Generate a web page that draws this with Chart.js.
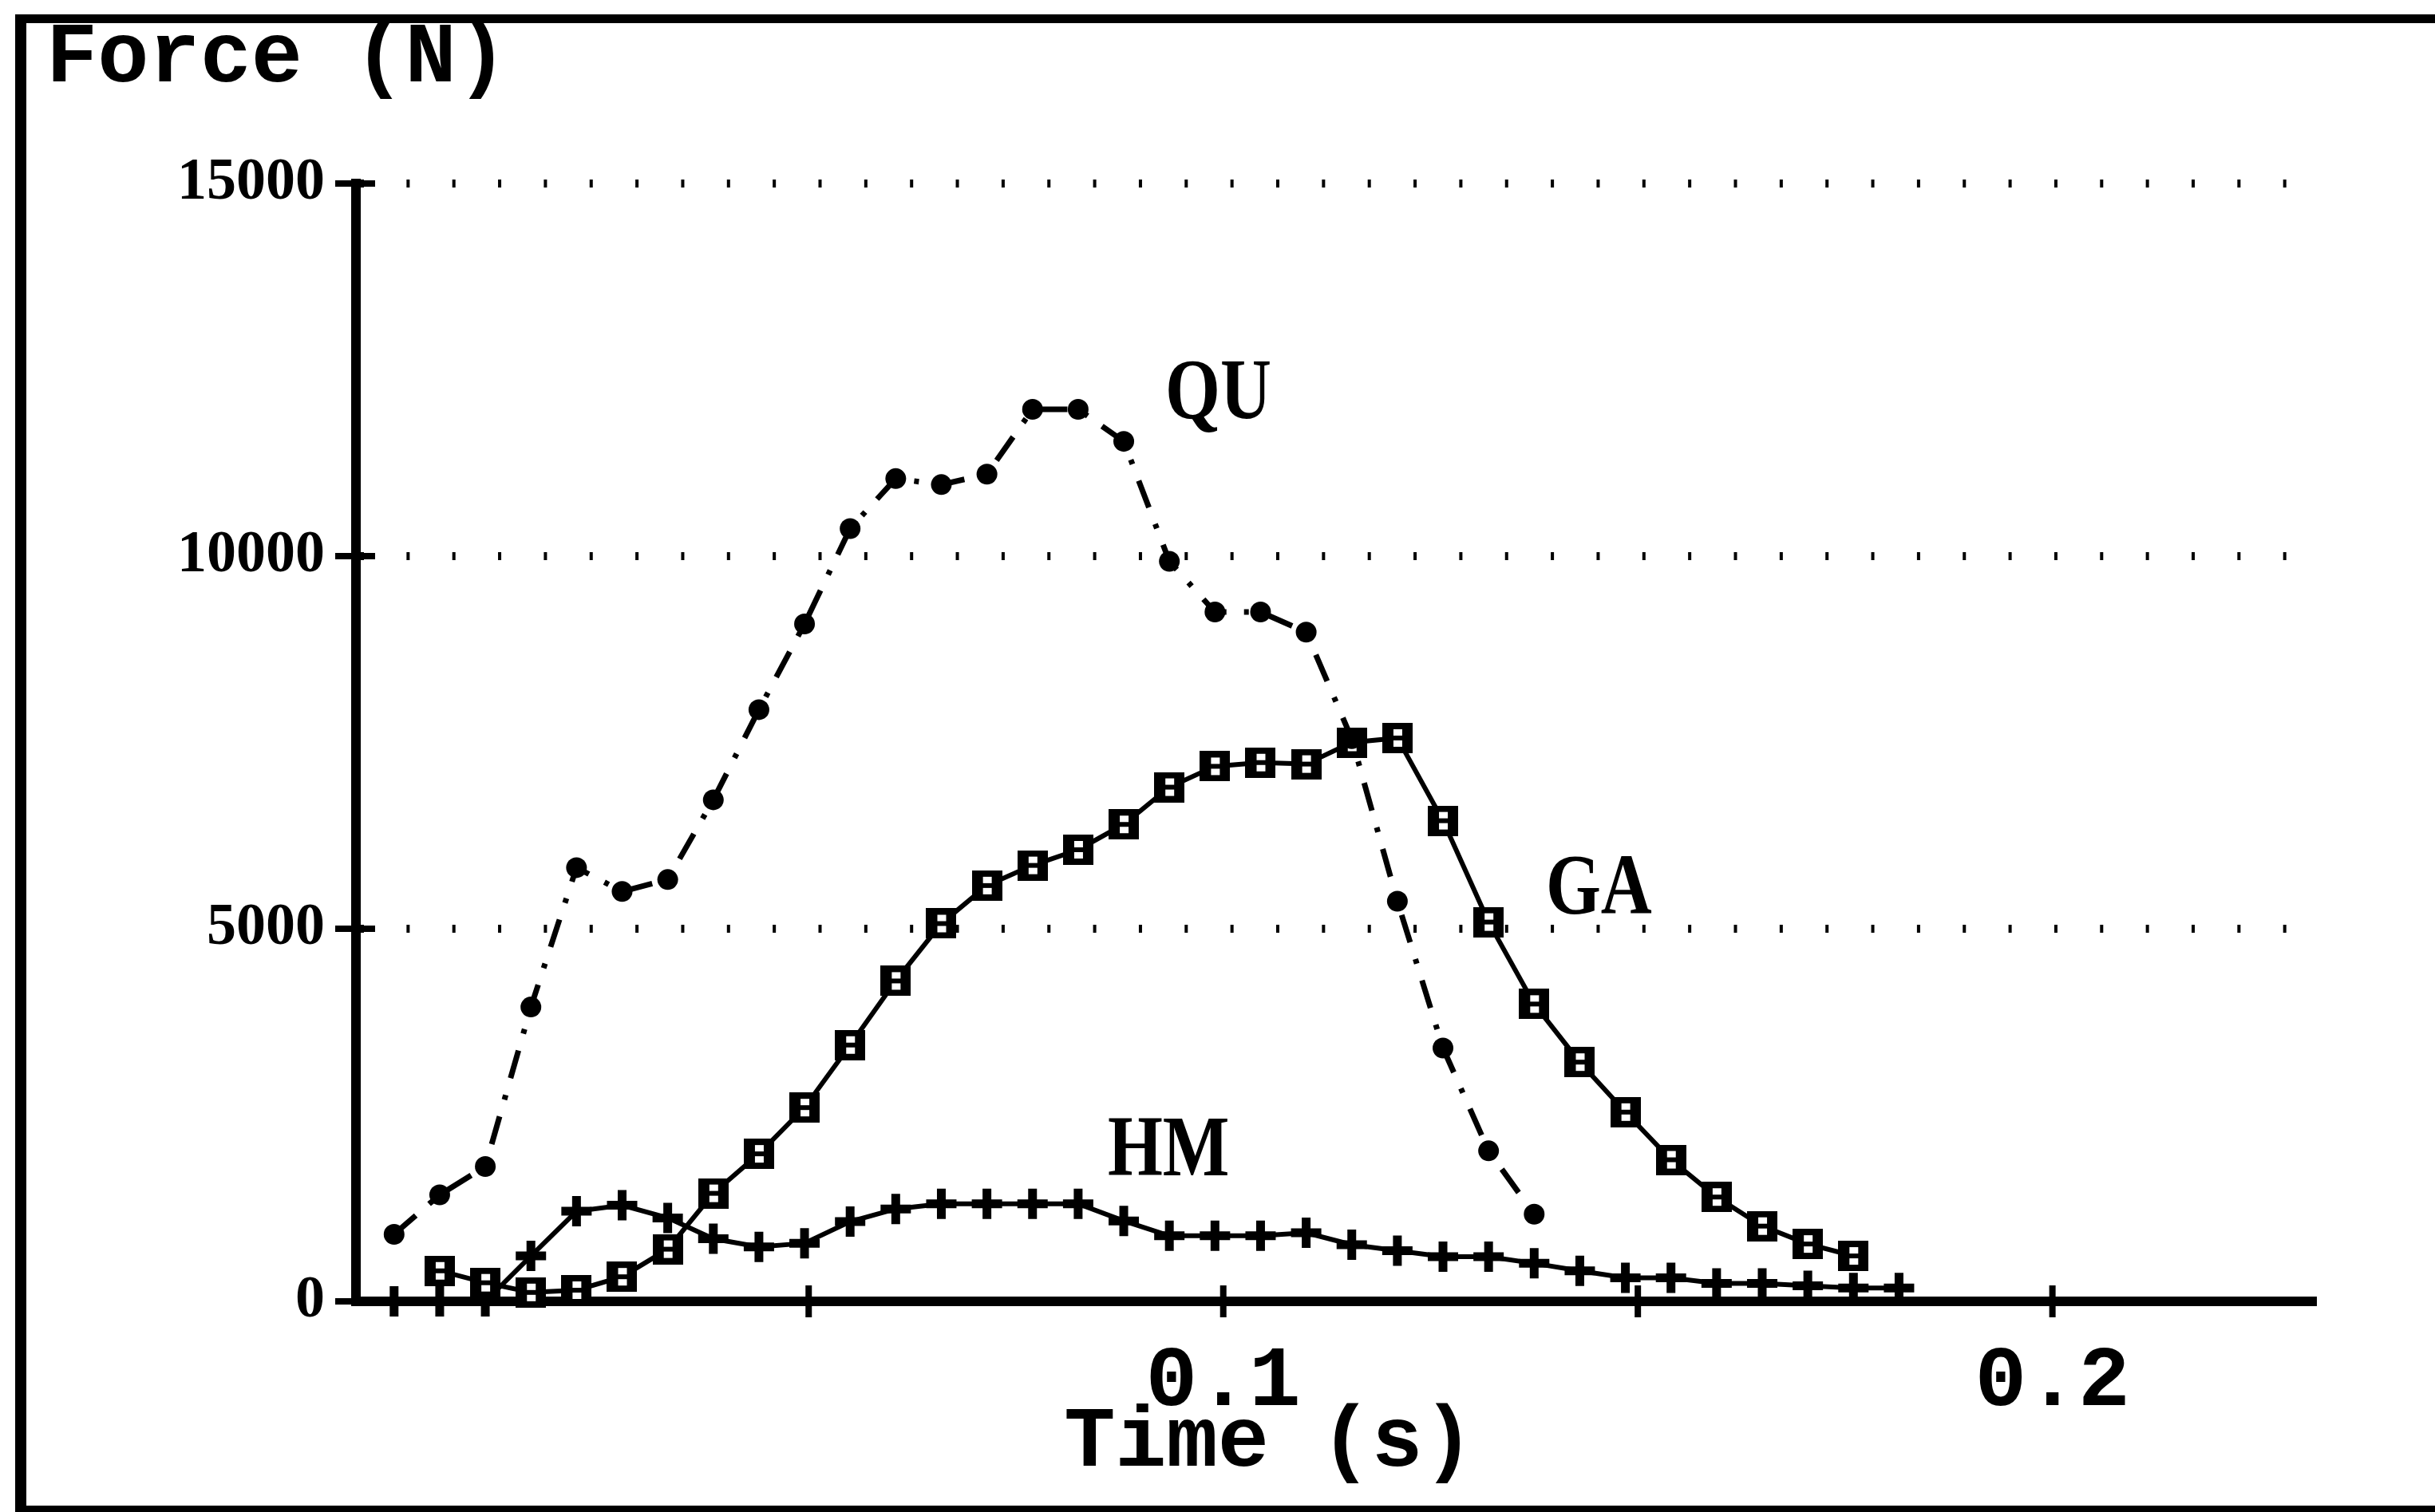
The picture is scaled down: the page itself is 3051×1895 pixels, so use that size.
<!DOCTYPE html>
<html>
<head>
<meta charset="utf-8">
<title>Force (N) – Time (s)</title>
<script src="https://cdn.jsdelivr.net/npm/chart.js@4.4.1/dist/chart.umd.min.js"></script>
<style>
  html, body { margin: 0; padding: 0; background: #fff; overflow: hidden; }
  #chart { display: block; }
</style>
</head>
<body>
<canvas id="chart" width="3051" height="1895"></canvas>
<script>
// Sample instants, seconds
const timeS = [
  0, 0.0055, 0.011, 0.0165, 0.022, 0.0275, 0.033, 0.0385, 0.044, 0.0495,
  0.055, 0.0605, 0.066, 0.0715, 0.077, 0.0825, 0.088, 0.0935, 0.099, 0.1045,
  0.11, 0.1155, 0.121, 0.1265, 0.132, 0.1375, 0.143, 0.1485, 0.154, 0.1595,
  0.165, 0.1705, 0.176, 0.1815
];

// Muscle forces, newtons (one value per sample instant; null = not recorded)
const quForce = [
  900, 1430, 1810, 3950, 5820, 5500, 5660, 6730, 7940, 9090,
  10370, 11040, 10960, 11100, 11970, 11970, 11540, 9930, 9250, 9250,
  8980, 7550, 5370, 3400, 2020, 1170
];
const gaForce = [
  null, 410, 250, 120, 150, 330, 700, 1450, 1980, 2600,
  3440, 4300, 5070, 5580, 5850, 6060, 6400, 6900, 7180, 7230,
  7210, 7500, 7560, 6450, 5090, 3990, 3210, 2540, 1900, 1400,
  1010, 770, 610
];
const hmForce = [
  0, 0, 0, 610, 1210, 1290, 1120, 840, 730, 780,
  1070, 1240, 1310, 1310, 1310, 1310, 1080, 880, 880, 880,
  920, 760, 680, 600, 600, 510, 410, 315, 315, 240,
  240, 210, 180, 180
];

const seriesNames = ['QU', 'GA', 'HM'];

// Axis ticks and their printed labels
const yTicks = [0, 5000, 10000, 15000];
const xTicks = [0.05, 0.1, 0.15, 0.2];
const xTickLabels = ['', '0.1', '', '0.2'];

// Where each curve name is written: [time (s), force (N)] of the text baseline centre
const seriesLabelAt = [[0.0994, 11850], [0.1453, 5200], [0.0934, 1690]];

const pairs = ys => timeS
  .map((t, i) => ({ x: t, y: ys[i] }))
  .filter(p => p.y !== null && p.y !== undefined);

// Square marker with a bar across the middle
function boxMarker() {
  const c = document.createElement('canvas');
  c.width = 38; c.height = 38;
  const g = c.getContext('2d');
  g.fillStyle = '#000';
  g.fillRect(0, 0, 38, 38);
  g.fillStyle = '#fff';
  g.fillRect(14, 8, 11, 8);
  g.fillRect(14, 22, 11, 8);
  return c;
}

// White page with the open frame (left, top and bottom rules)
const pageFrame = {
  id: 'pageFrame',
  beforeDraw(chart) {
    const { ctx, width, height } = chart;
    ctx.save();
    ctx.fillStyle = '#fff';
    ctx.fillRect(0, 0, width, height);
    ctx.fillStyle = '#000';
    ctx.fillRect(19, 18, 14, height - 18);
    ctx.fillRect(19, 18, width - 19, 11);
    ctx.fillRect(19, height - 8, width - 19, 8);
    ctx.restore();
  }
};

// Tick marks through the axes, axis titles and curve names
const decorations = {
  id: 'decorations',
  afterDraw(chart) {
    const { ctx, chartArea, scales: { x, y } } = chart;
    const seg = (x1, y1, x2, y2) => { ctx.beginPath(); ctx.moveTo(x1, y1); ctx.lineTo(x2, y2); ctx.stroke(); };
    ctx.save();
    ctx.strokeStyle = '#000';
    ctx.lineWidth = 8;
    yTicks.forEach(v => {
      const py = y.getPixelForValue(v);
      if (v === 0) seg(chartArea.left - 26, py, chartArea.left, py);
      else seg(chartArea.left - 26, py, chartArea.left + 24, py);
    });
    xTicks.forEach(v => {
      const px = x.getPixelForValue(v);
      seg(px, chartArea.bottom - 20, px, chartArea.bottom + 20);
    });

    ctx.fillStyle = '#000';
    ctx.font = 'bold 107px "Liberation Mono"';
    ctx.textBaseline = 'alphabetic';
    ctx.textAlign = 'left';
    ctx.fillText('Force (N)', 58, 102);
    ctx.textAlign = 'center';
    ctx.fillText('Time (s)', 1590, 1837);

    ctx.font = 'bold 108px "Liberation Serif"';
    seriesNames.forEach((name, k) => {
      const [tx, fy] = seriesLabelAt[k];
      ctx.save();
      ctx.translate(x.getPixelForValue(tx), y.getPixelForValue(fy));
      ctx.scale(0.82, 1);
      ctx.textAlign = 'center';
      ctx.fillText(name, 0, 0);
      ctx.restore();
    });
    ctx.restore();
  }
};

new Chart(document.getElementById('chart'), {
  type: 'line',
  data: {
    datasets: [
      {
        label: seriesNames[0],
        data: pairs(quForce),
        borderColor: '#000',
        borderWidth: 7,
        borderDash: [36, 22, 6, 22],
        pointStyle: 'circle',
        pointRadius: 13,
        pointBackgroundColor: '#000',
        pointBorderWidth: 0,
        clip: false
      },
      {
        label: seriesNames[1],
        data: pairs(gaForce),
        borderColor: '#000',
        borderWidth: 6,
        pointStyle: boxMarker(),
        pointRadius: 19,
        clip: false
      },
      {
        label: seriesNames[2],
        data: pairs(hmForce),
        borderColor: '#000',
        borderWidth: 6,
        pointStyle: 'cross',
        pointRadius: 19,
        pointBorderColor: '#000',
        pointBorderWidth: 11,
        clip: false
      }
    ]
  },
  options: {
    responsive: false,
    animation: false,
    devicePixelRatio: 1,
    layout: { padding: { left: 0, top: 230, right: 149, bottom: 0 } },
    elements: { line: { tension: 0, fill: false } },
    plugins: { legend: { display: false }, tooltip: { enabled: false }, title: { display: false } },
    scales: {
      x: {
        type: 'linear',
        min: -0.0046,
        max: 0.2318,
        afterBuildTicks: s => { s.ticks = xTicks.map(v => ({ value: v })); },
        afterFit: s => { s.height = 264; },
        ticks: {
          color: '#000',
          padding: 38,
          maxRotation: 0,
          autoSkip: false,
          font: { family: '"Liberation Mono"', size: 108, weight: 'bold' },
          callback: (v, i) => xTickLabels[i]
        },
        grid: { drawOnChartArea: false, drawTicks: false },
        border: { display: true, color: '#000', width: 12 }
      },
      y: {
        min: 0,
        max: 15000,
        afterBuildTicks: s => { s.ticks = yTicks.map(v => ({ value: v })); },
        afterFit: s => { s.width = 446; },
        ticks: {
          color: '#000',
          padding: 39,
          autoSkip: false,
          font: { family: '"Liberation Serif"', size: 74, weight: 'bold' },
          callback: v => String(v)
        },
        grid: {
          drawTicks: false,
          lineWidth: 10,
          color: c => (c.tick && c.tick.value === 0) ? 'rgba(0,0,0,0)' : '#000'
        },
        border: { display: true, color: '#000', width: 12, dash: [4, 53.35], dashOffset: 0 }
      }
    }
  },
  plugins: [pageFrame, decorations]
});
</script>
</body>
</html>
